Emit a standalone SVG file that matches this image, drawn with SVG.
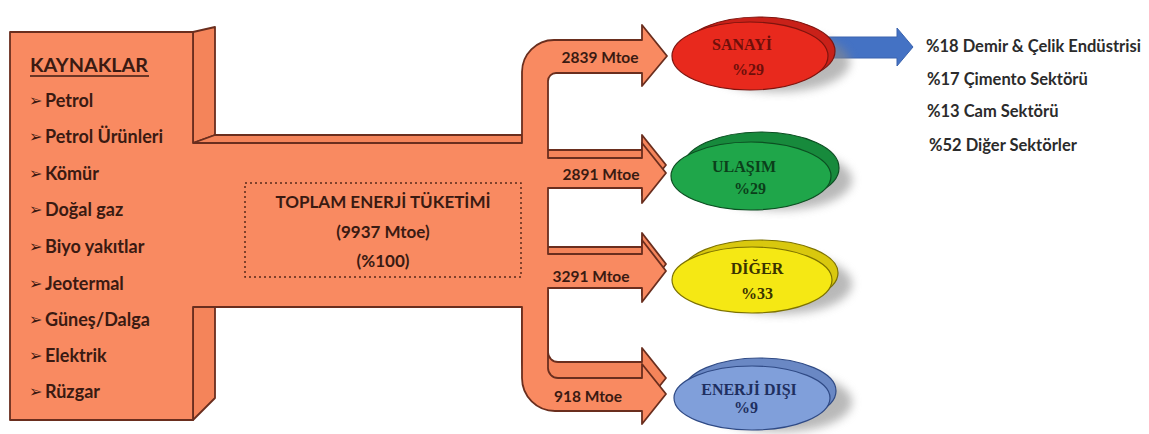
<svg xmlns="http://www.w3.org/2000/svg" width="1149" height="434" viewBox="0 0 1149 434">
<defs>
<filter id="blur" x="-30%" y="-30%" width="160%" height="160%"><feGaussianBlur stdDeviation="5"/></filter>
<style>
.flow{fill:#F98A61;stroke:#6A2E1E;stroke-width:1.8;stroke-linejoin:round}
.side{fill:#F4845A;stroke:#6A2E1E;stroke-width:1.8;stroke-linejoin:round}
.src{font-family:Lato,"Liberation Sans",sans-serif;font-weight:bold;font-size:18px;fill:#3A1A12}
.bul{font-family:"DejaVu Sans",sans-serif;font-size:16px;fill:#3A1A12}
.mt{font-family:Lato,"Liberation Sans",sans-serif;font-weight:bold;font-size:15.5px;fill:#3A1A12;text-anchor:middle}
.tot{font-family:Lato,"Liberation Sans",sans-serif;font-weight:bold;font-size:17px;fill:#3A1A12;text-anchor:middle}
.el{font-family:"Liberation Serif",serif;font-weight:bold;font-size:16px;text-anchor:middle}
.lst{font-family:Lato,"Liberation Sans",sans-serif;font-weight:bold;font-size:16.5px;fill:#2B2B2B}
.shadow{fill:#8A8A8A;opacity:0.6;filter:url(#blur)}
</style>
</defs>
<rect width="1149" height="434" fill="#FFFFFF"/>

<g id="connectors">
  <path class="side" d="M193,32 L215,27 L215,135 L193,143 Z"/>
  <path class="side" d="M193,307 L215,307 L215,398 L193,420 Z"/>
  <path class="side" d="M193,143 L215,135 L522,135 L522,143 Z"/>
  <path class="side" d="M530,150 L642,150 L642,135 L666,165 L642,195 L642,180 L530,180 Z"/>
  <path class="side" d="M530,247 L642,247 L642,233 L666,264 L642,295 L642,281 L530,281 Z"/>
  <path class="side" d="M522,291 L548,291 L548,352 A10,10 0 0 0 558,362 L642,362 L642,348 L666,378 L642,408 L642,395 L555,395 A33,33 0 0 1 522,362 Z"/>
  <path class="flow" d="M10,32 L193,32 L193,143 L522,143 L522,72 A32,32 0 0 1 554,40 L642,40 L642,25 L667,56 L642,86 L642,73 L556,73 A8,8 0 0 0 548,81 L548,158 L642,158 L642,143 L666,173 L642,203 L642,188 L548,188 L548,254 L642,254 L642,240 L666,271 L642,302 L642,288 L548,288 L548,368 A10,10 0 0 0 558,378 L642,378 L642,364 L666,394 L642,424 L642,411 L555,411 A33,33 0 0 1 522,378 L522,307 L193,307 L193,420 L10,420 Z"/>
  <text class="mt" x="600" y="63">2839 Mtoe</text>
  <text class="mt" x="601" y="180">2891 Mtoe</text>
  <text class="mt" x="591" y="282">3291 Mtoe</text>
  <text class="mt" x="588" y="402">918 Mtoe</text>
  <path d="M820,37 L897,37 L897,28 L913,47 L897,66 L897,58 L820,58 Z" fill="#4472C4" stroke="#3A63AE" stroke-width="1"/>
</g>

<g id="kaynaklar">
  <text class="src" x="30" y="72" font-size="21" textLength="118" lengthAdjust="spacingAndGlyphs">KAYNAKLAR</text>
  <line x1="30" y1="76" x2="149" y2="76" stroke="#3A1A12" stroke-width="1.6"/>
  <text class="bul" x="29" y="106">➢</text><text class="src" x="45" y="107">Petrol</text>
  <text class="bul" x="29" y="142">➢</text><text class="src" x="45" y="143">Petrol Ürünleri</text>
  <text class="bul" x="29" y="179">➢</text><text class="src" x="45" y="180">Kömür</text>
  <text class="bul" x="29" y="215">➢</text><text class="src" x="45" y="216">Doğal gaz</text>
  <text class="bul" x="29" y="252">➢</text><text class="src" x="45" y="253">Biyo yakıtlar</text>
  <text class="bul" x="29" y="289">➢</text><text class="src" x="45" y="290">Jeotermal</text>
  <text class="bul" x="29" y="325">➢</text><text class="src" x="45" y="326">Güneş/Dalga</text>
  <text class="bul" x="29" y="361">➢</text><text class="src" x="45" y="362">Elektrik</text>
  <text class="bul" x="29" y="397">➢</text><text class="src" x="45" y="398">Rüzgar</text>
</g>

<g id="toplam">
  <rect x="245" y="183" width="276" height="94" fill="none" stroke="#5A2A1A" stroke-width="1.5" stroke-dasharray="2 3"/>
  <text class="tot" x="383" y="208">TOPLAM ENERJİ TÜKETİMİ</text>
  <text class="tot" x="383" y="238">(9937 Mtoe)</text>
  <text class="tot" x="383" y="267">(%100)</text>
</g>

<g id="sanayi">
  <ellipse class="shadow" cx="778" cy="62" rx="72" ry="30"/>
  <ellipse cx="759" cy="51" rx="76" ry="34" fill="#C92119" stroke="#7E140E" stroke-width="1.2"/>
  <ellipse cx="750" cy="56" rx="78" ry="34" fill="#E8291D" stroke="#7E140E" stroke-width="1.2"/>
  <text class="el" x="742" y="50" fill="#6E0F0A">SANAYİ</text>
  <text class="el" x="748" y="75" fill="#6E0F0A">%29</text>
</g>

<g id="ulasim">
  <ellipse class="shadow" cx="780" cy="180" rx="72" ry="30"/>
  <ellipse cx="761" cy="168" rx="78" ry="36" fill="#178A3C" stroke="#0C4F22" stroke-width="1.2"/>
  <ellipse cx="751" cy="176" rx="80" ry="34" fill="#1FA64A" stroke="#0C4F22" stroke-width="1.2"/>
  <text class="el" x="744" y="172" fill="#0B3F1A">ULAŞIM</text>
  <text class="el" x="750" y="194" fill="#0B3F1A">%29</text>
</g>

<g id="diger">
  <ellipse class="shadow" cx="780" cy="284" rx="72" ry="30"/>
  <ellipse cx="760" cy="273" rx="78" ry="33" fill="#D9C80E" stroke="#7D7200" stroke-width="1.2"/>
  <ellipse cx="752" cy="280" rx="80" ry="33" fill="#F5E814" stroke="#7D7200" stroke-width="1.2"/>
  <text class="el" x="757" y="274" fill="#3A3300" font-size="18">DİĞER</text>
  <text class="el" x="757" y="299" fill="#3A3300" font-size="18">%33</text>
</g>

<g id="enerji-disi">
  <ellipse class="shadow" cx="780" cy="402" rx="72" ry="30"/>
  <ellipse cx="760" cy="391" rx="76" ry="33" fill="#6A88C4" stroke="#2F4A85" stroke-width="1.2"/>
  <ellipse cx="752" cy="398" rx="78" ry="32" fill="#809FDA" stroke="#2F4A85" stroke-width="1.2"/>
  <text class="el" x="749" y="395" fill="#1F2F5F">ENERJİ DIŞI</text>
  <text class="el" x="746" y="413" fill="#1F2F5F">%9</text>
</g>

<g id="sanayi-list">
  <text class="lst" x="926" y="52">%18 Demir &amp; Çelik Endüstrisi</text>
  <text class="lst" x="927" y="85">%17 Çimento Sektörü</text>
  <text class="lst" x="927" y="117">%13 Cam Sektörü</text>
  <text class="lst" x="929" y="151">%52 Diğer Sektörler</text>
</g>
</svg>
